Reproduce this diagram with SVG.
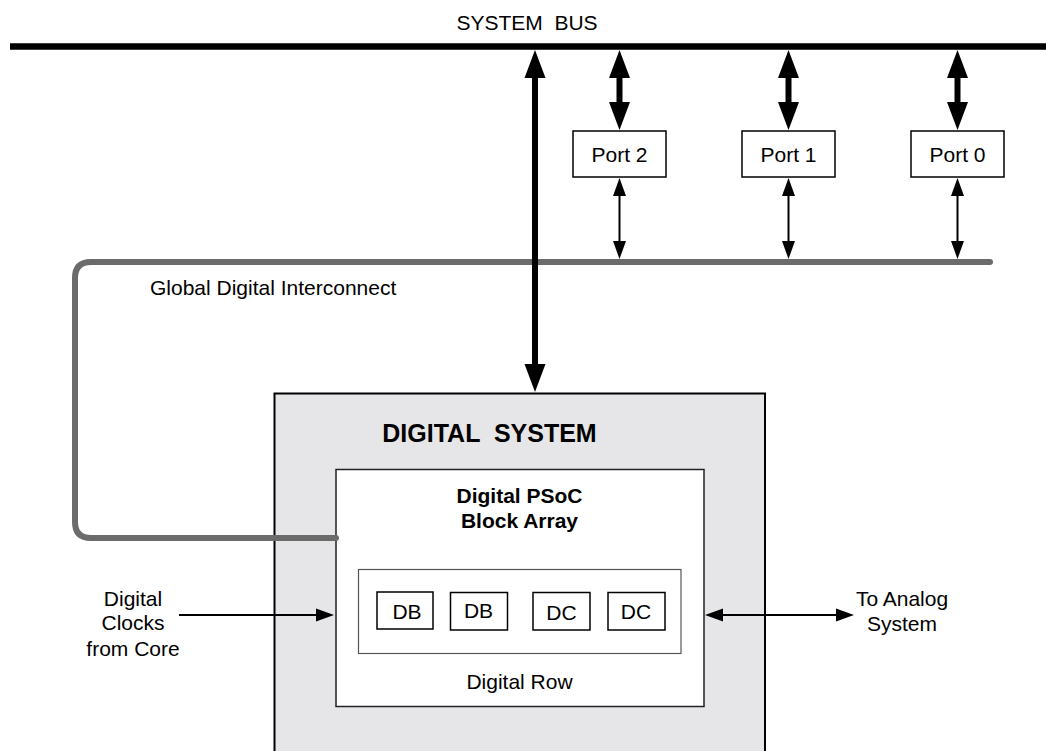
<svg xmlns="http://www.w3.org/2000/svg" width="1046" height="751" viewBox="0 0 1046 751">
<style>
text{font-family:"Liberation Sans",Arial,sans-serif;fill:#000;font-size:21px;white-space:pre}
.b{font-weight:bold}
.c{text-anchor:middle}
.box{fill:#fff;stroke:#000;stroke-width:1.5}
.thick{stroke:#000;stroke-width:6;fill:none}
.thin{stroke:#000;stroke-width:2;fill:none}
.gdi{stroke:#6b6b6b;stroke-width:6;fill:none;stroke-linecap:round;stroke-linejoin:round}
</style>
<defs>
<marker id="bigHead" markerUnits="userSpaceOnUse" markerWidth="28" markerHeight="21" refX="18" refY="10.5" orient="auto-start-reverse" overflow="visible">
<path d="M0,0 L28,10.5 L0,21 z" fill="#000"/>
</marker>
<marker id="smallHead" markerUnits="userSpaceOnUse" markerWidth="18" markerHeight="13" refX="14" refY="6.5" orient="auto-start-reverse" overflow="visible">
<path d="M0,0 L18,6.5 L0,13 z" fill="#000"/>
</marker>
</defs>
<rect width="1046" height="751" fill="#fff"/>

<g id="system-bus">
<line x1="10" y1="46.5" x2="1046" y2="46.5" stroke="#000" stroke-width="6.5"/>
<text class="c" x="527" y="29.5" xml:space="preserve">SYSTEM  BUS</text>
</g>

<g id="digital-system">
<rect x="274.5" y="393.5" width="490.5" height="370" fill="#e6e6e8" stroke="#000" stroke-width="2"/>
<text class="b c" x="489.5" y="441.5" style="font-size:25px" xml:space="preserve">DIGITAL  SYSTEM</text>
</g>

<g id="block-array">
<rect x="336" y="469.5" width="368" height="237" fill="#fff" stroke="#222" stroke-width="1.5"/>
<text class="b c" x="519.5" y="502.5">Digital PSoC</text>
<text class="b c" x="519.5" y="527.5">Block Array</text>
</g>

<g id="digital-row">
<rect x="358.5" y="569.5" width="322.5" height="84" fill="#fff" stroke="#555" stroke-width="1.2"/>
<text class="c" x="519.5" y="689">Digital Row</text>
</g>

<g id="db-1"><rect class="box" x="377" y="592" width="56" height="37"/><text class="c" x="407" y="619">DB</text></g>
<g id="db-2"><rect class="box" x="450.5" y="592.5" width="57" height="37.5"/><text class="c" x="478.5" y="618">DB</text></g>
<g id="dc-1"><rect class="box" x="533" y="592.5" width="57" height="37.5"/><text class="c" x="561.5" y="620">DC</text></g>
<g id="dc-2"><rect class="box" x="608" y="592.5" width="57" height="37.5"/><text class="c" x="636" y="618.5">DC</text></g>

<g id="port-2"><rect class="box" x="573" y="131" width="93" height="46"/><text class="c" x="619.5" y="161.5">Port 2</text></g>
<g id="port-1"><rect class="box" x="742" y="131" width="93" height="46"/><text class="c" x="788.5" y="161.5">Port 1</text></g>
<g id="port-0"><rect class="box" x="911" y="131" width="93" height="46"/><text class="c" x="957.5" y="161.5">Port 0</text></g>

<g id="labels">
<text x="150" y="295">Global Digital Interconnect</text>
<text class="c" x="133" y="606">Digital</text>
<text class="c" x="133" y="630">Clocks</text>
<text class="c" x="133" y="656">from Core</text>
<text class="c" x="902" y="606">To Analog</text>
<text class="c" x="902" y="631">System</text>
</g>

<g id="connectors">
<path id="global-digital-interconnect" class="gdi" d="M990,262 H91 Q75,262 75,278 V522 Q75,538 91,538 H336"/>
<line class="thick" x1="535" y1="60" x2="535" y2="382" marker-start="url(#bigHead)" marker-end="url(#bigHead)"/>
<line class="thick" x1="619.5" y1="60" x2="619.5" y2="120" marker-start="url(#bigHead)" marker-end="url(#bigHead)"/>
<line class="thick" x1="788.5" y1="60" x2="788.5" y2="120" marker-start="url(#bigHead)" marker-end="url(#bigHead)"/>
<line class="thick" x1="957.5" y1="60" x2="957.5" y2="120" marker-start="url(#bigHead)" marker-end="url(#bigHead)"/>
<line class="thin" x1="619.5" y1="182" x2="619.5" y2="255" marker-start="url(#smallHead)" marker-end="url(#smallHead)"/>
<line class="thin" x1="788.5" y1="182" x2="788.5" y2="255" marker-start="url(#smallHead)" marker-end="url(#smallHead)"/>
<line class="thin" x1="957.5" y1="182" x2="957.5" y2="255" marker-start="url(#smallHead)" marker-end="url(#smallHead)"/>
<line class="thin" x1="179" y1="615" x2="330" y2="615" marker-end="url(#smallHead)"/>
<line class="thin" x1="709" y1="615" x2="850" y2="615" marker-start="url(#smallHead)" marker-end="url(#smallHead)"/>
</g>
</svg>
